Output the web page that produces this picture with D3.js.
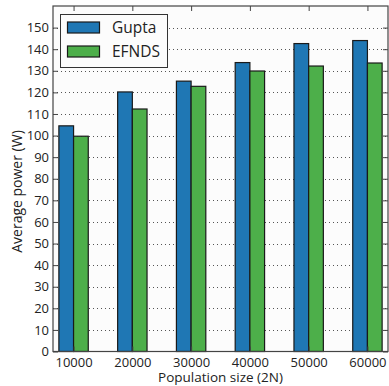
<!DOCTYPE html>
<html>
<head>
<meta charset="utf-8">
<script src="https://cdn.jsdelivr.net/npm/d3@7/dist/d3.min.js"></script>
<style>
  html, body { margin: 0; padding: 0; background: #fff; }
  svg { display: block; font-family: "Open Sans", "Noto Sans", sans-serif; }
</style>
</head>
<body>
<svg id="chart" width="389" height="386"></svg>
<script>
// Population sizes and average power per method
const categories = ["10000", "20000", "30000", "40000", "50000", "60000"];
const seriesNames = ["Gupta", "EFNDS"];
const gupta = [104.5, 120.2, 125.2, 133.8, 142.6, 144.0];
const efnds = [99.7, 112.3, 122.8, 129.9, 132.2, 133.6];
const yTicks = [0, 10, 20, 30, 40, 50, 60, 70, 80, 90, 100, 110, 120, 130, 140, 150];
const colors = ["#1f77b4", "#4daf4a"];

(function draw() {
  const svg = d3.select("#chart");
  const mLeft = 53, mRight = 388, mTop = 6, mBottom = 351.5;
  const barW = 0.25;

  const x = d3.scaleLinear().domain([-0.35, categories.length - 1 + 0.35]).range([mLeft, mRight]);
  const y = d3.scaleLinear().domain([0, 160]).range([mBottom, mTop]);

  // plot background
  svg.append("rect").attr("x", mLeft).attr("y", mTop)
    .attr("width", mRight - mLeft).attr("height", mBottom - mTop).attr("fill", "#fcfcfc");

  // dotted grid lines
  svg.append("g").selectAll("line").data(yTicks.filter(d => d > 0)).join("line")
    .attr("x1", mLeft).attr("x2", mRight)
    .attr("y1", d => Math.round(y(d)) + 0.5).attr("y2", d => Math.round(y(d)) + 0.5)
    .attr("stroke", "#555").attr("stroke-width", 1).attr("stroke-dasharray", "1,3");

  // bars
  const series = [gupta, efnds];
  series.forEach((vals, s) => {
    svg.append("g").selectAll("rect").data(vals).join("rect")
      .attr("x", (d, i) => x(i - barW + s * barW))
      .attr("width", x(barW) - x(0))
      .attr("y", d => y(d))
      .attr("height", d => y(0) - y(d))
      .attr("fill", colors[s])
      .attr("stroke", "#1a1a1a").attr("stroke-width", 1.2);
  });

  // axes with inward ticks on all sides
  const tickLen = 5;
  const xIdx = d3.range(categories.length);
  svg.append("g").attr("transform", `translate(0,${mBottom})`)
    .call(d3.axisBottom(x).tickValues(xIdx).tickFormat(i => categories[i]).tickSizeInner(-tickLen).tickSizeOuter(0).tickPadding(6))
    .call(g => g.select(".domain").remove());
  svg.append("g").attr("transform", `translate(0,${mTop})`)
    .call(d3.axisTop(x).tickValues(xIdx).tickFormat("").tickSizeInner(-tickLen).tickSizeOuter(0))
    .call(g => g.select(".domain").remove());
  svg.append("g").attr("transform", `translate(${mLeft},0)`)
    .call(d3.axisLeft(y).tickValues(yTicks).tickSizeInner(-tickLen).tickSizeOuter(0).tickPadding(4))
    .call(g => g.select(".domain").remove());
  svg.append("g").attr("transform", `translate(${mRight},0)`)
    .call(d3.axisRight(y).tickValues(yTicks).tickFormat("").tickSizeInner(-tickLen).tickSizeOuter(0))
    .call(g => g.select(".domain").remove());

  svg.selectAll(".tick line").attr("stroke", "#444");
  svg.selectAll(".tick text").attr("fill", "#222").style("font-size", "13px")
    .style("font-family", "'Open Sans', 'Noto Sans', sans-serif");

  // frame
  svg.append("rect").attr("x", mLeft).attr("y", mTop)
    .attr("width", mRight - mLeft).attr("height", mBottom - mTop)
    .attr("fill", "none").attr("stroke", "#444").attr("stroke-width", 1.2);

  // axis titles
  svg.append("text").attr("x", 220.5).attr("y", 381.5)
    .attr("text-anchor", "middle").attr("fill", "#222").style("font-size", "13.5px")
    .text("Population size (2N)");
  svg.append("text").attr("transform", `translate(22,191.5) rotate(-90)`)
    .attr("text-anchor", "middle").attr("fill", "#222").style("font-size", "14px")
    .text("Average power (W)");

  // legend
  const lg = svg.append("g");
  lg.append("rect").attr("x", 60.5).attr("y", 14.5).attr("width", 107).attr("height", 53)
    .attr("fill", "#fcfcfc").attr("stroke", "#333").attr("stroke-width", 1);
  seriesNames.forEach((name, i) => {
    const yy = 22 + i * 24;
    lg.append("rect").attr("x", 67.5).attr("y", yy).attr("width", 32).attr("height", 11)
      .attr("fill", colors[i]).attr("stroke", "#1a1a1a").attr("stroke-width", 1.2);
    lg.append("text").attr("x", 112).attr("y", yy + 11).attr("fill", "#222")
      .style("font-size", "15.5px").text(name);
  });
})();
</script>
</body>
</html>
